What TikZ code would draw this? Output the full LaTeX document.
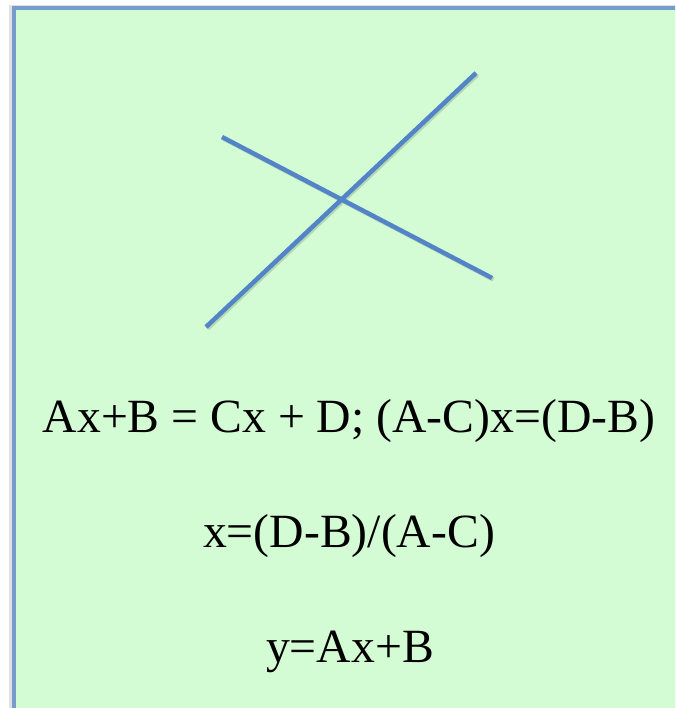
\documentclass[tikz,border=0pt]{standalone}
\usepackage{fontspec}
\setmainfont{Liberation Serif}
\definecolor{panelfill}{RGB}{212,252,212}
\definecolor{panelborder}{RGB}{118,156,204}
\definecolor{linecol}{RGB}{84,132,200}
\definecolor{shadowcol}{RGB}{140,175,140}
\tikzset{
  panel/.style={fill=panelfill, draw=panelborder, line width=4pt},
  crossline/.style={draw=linecol, line width=4.5pt},
  shadowline/.style={draw=shadowcol, line width=4.5pt, opacity=0.45},
  eqn/.style={anchor=base, inner sep=0pt, font=\fontsize{47.7}{57}\selectfont, text=black}
}
\begin{document}
\begin{tikzpicture}[x=1pt,y=-1pt]
\useasboundingbox (0,0) rectangle (675,708);
\clip (0,0) rectangle (675,708);
\fill[white] (0,0) rectangle (675,708);
\fill[black!12] (9,5) rectangle (690,720);
\path[panel] (13.5,8.5) rectangle (690,720);
\coordinate (l1a) at (206,327);
\coordinate (l1b) at (476,73);
\coordinate (l2a) at (222,137);
\coordinate (l2b) at (492,278);
\draw[shadowline] ([shift={(1.5,1.5)}]l1a) -- ([shift={(1.5,1.5)}]l1b);
\draw[shadowline] ([shift={(1.5,1.5)}]l2a) -- ([shift={(1.5,1.5)}]l2b);
\draw[crossline] (l1a) -- (l1b);
\draw[crossline] (l2a) -- (l2b);
\node[eqn] (e1) at (349,432) {Ax+B = Cx + D; (A-C)x=(D-B)};
\node[eqn] (e2) at (349,547) {x=(D-B)/(A-C)};
\node[eqn] (e3) at (350,662) {y=Ax+B};
\end{tikzpicture}
\end{document}
